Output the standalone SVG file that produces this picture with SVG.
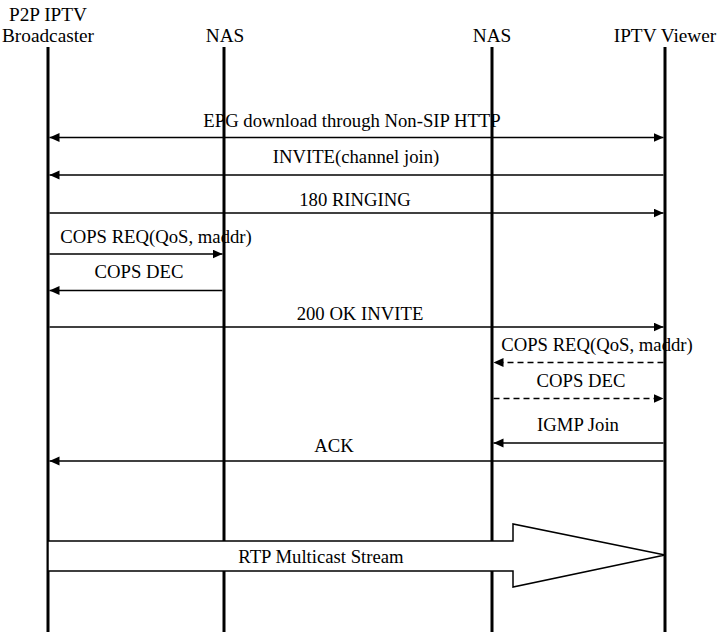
<svg xmlns="http://www.w3.org/2000/svg" width="719" height="634" viewBox="0 0 719 634">
<style>
  text { font-family: "Liberation Serif", "Times New Roman", serif; font-size: 18.7px; fill: #000; text-anchor: middle; }
  .hdr { font-size: 19.3px; }
  .life { stroke: #000; stroke-width: 3; fill: none; }
  .msg { stroke: #000; stroke-width: 1.3; fill: none; }
  .dash { stroke-dasharray: 6 4; }
</style>
<defs>
  <marker id="ah" markerUnits="userSpaceOnUse" markerWidth="11" markerHeight="10" refX="10" refY="4.5" orient="auto-start-reverse">
    <path d="M0,0 L10,4.5 L0,9 Z" fill="#000"/>
  </marker>
</defs>
<rect width="719" height="634" fill="#fff"/>
<g id="broadcaster">
  <text class="hdr" x="48" y="21">P2P IPTV</text>
  <text class="hdr" x="48" y="42">Broadcaster</text>
  <line class="life" x1="48" y1="47" x2="48" y2="632"/>
</g>
<g id="nas1">
  <text class="hdr" x="225" y="42">NAS</text>
  <line class="life" x1="224" y1="47" x2="224" y2="632"/>
</g>
<g id="nas2">
  <text class="hdr" x="492" y="42">NAS</text>
  <line class="life" x1="492" y1="47" x2="492" y2="632"/>
</g>
<g id="viewer">
  <text class="hdr" x="665" y="42">IPTV Viewer</text>
  <line class="life" x1="665" y1="47" x2="665" y2="632"/>
</g>
<g id="connectors">
  <line class="msg" x1="49.5" y1="137.5" x2="663.5" y2="137.5" marker-start="url(#ah)" marker-end="url(#ah)"/>
  <text x="352" y="127">EPG download through Non-SIP HTTP</text>
  <line class="msg" x1="663.5" y1="175" x2="49.5" y2="175" marker-end="url(#ah)"/>
  <text x="356" y="163">INVITE(channel join)</text>
  <line class="msg" x1="49.5" y1="213" x2="663.5" y2="213" marker-end="url(#ah)"/>
  <text x="355" y="206">180 RINGING</text>
  <line class="msg" x1="49.5" y1="254" x2="222.5" y2="254" marker-end="url(#ah)"/>
  <text x="156" y="243">COPS REQ(QoS, maddr)</text>
  <line class="msg" x1="222.5" y1="290.5" x2="49.5" y2="290.5" marker-end="url(#ah)"/>
  <text x="139" y="278">COPS DEC</text>
  <line class="msg" x1="49.5" y1="327" x2="663.5" y2="327" marker-end="url(#ah)"/>
  <text x="360" y="320">200 OK INVITE</text>
  <line class="msg dash" x1="663.5" y1="362.5" x2="493.5" y2="362.5" marker-end="url(#ah)"/>
  <text x="597" y="351">COPS REQ(QoS, maddr)</text>
  <line class="msg dash" x1="493.5" y1="398.5" x2="663.5" y2="398.5" marker-end="url(#ah)"/>
  <text x="581" y="387">COPS DEC</text>
  <line class="msg" x1="663.5" y1="443" x2="493.5" y2="443" marker-end="url(#ah)"/>
  <text x="578" y="431">IGMP Join</text>
  <line class="msg" x1="663.5" y1="461" x2="49.5" y2="461" marker-end="url(#ah)"/>
  <text x="334" y="452">ACK</text>
  <polygon points="48,541 513,541 513,524 665,555 513,587 513,571 48,571" fill="#fff" stroke="#000" stroke-width="1.5"/>
  <text x="321" y="563">RTP Multicast Stream</text>
</g>
</svg>
